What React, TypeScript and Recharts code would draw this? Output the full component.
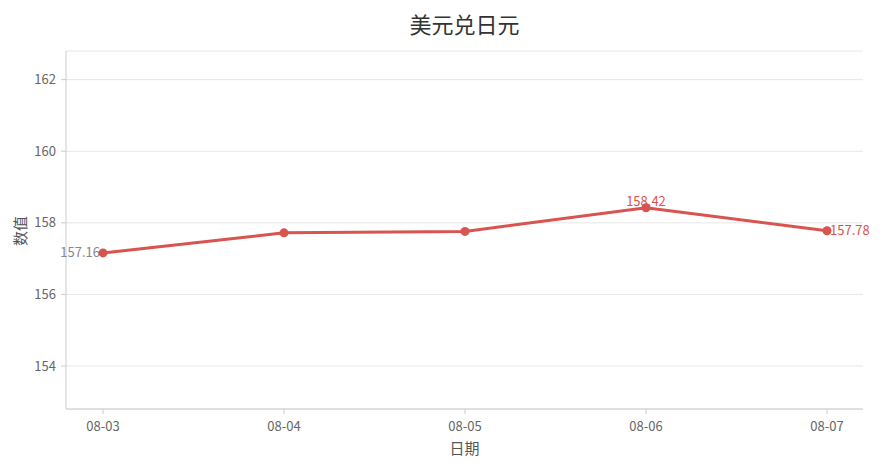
import { LineChart, Line, XAxis, YAxis, CartesianGrid } from "recharts";

document.body.style.margin = "0";

const dates = ["08-03", "08-04", "08-05", "08-06", "08-07"];
const rates = [157.16, 157.72, 157.76, 158.42, 157.78];
const yTicks = [154, 156, 158, 160, 162];

const data = dates.map((d, i) => ({ date: d, rate: rates[i] }));

const FONT = '"Noto Sans CJK SC", "Noto Sans", sans-serif';
const RED = "#d9534f";

const PointLabel = (props: any) => {
  const { x, y, index, value } = props;
  if (index === 0) {
    return (
      <text x={x - 3} y={y} dy="0.35em" textAnchor="end" fill="#888" fontSize={13} fontFamily={FONT}>
        {value}
      </text>
    );
  }
  if (index === 3) {
    return (
      <text x={x} y={y - 2} textAnchor="middle" fill={RED} fontSize={13} fontFamily={FONT}>
        {value}
      </text>
    );
  }
  if (index === 4) {
    return (
      <text x={x + 3} y={y} dy="0.35em" textAnchor="start" fill={RED} fontSize={13} fontFamily={FONT}>
        {value}
      </text>
    );
  }
  return null;
};

const App = () => {
  return (
    <div style={{ position: "relative", width: 883, height: 468, fontFamily: FONT, background: "#fff" }}>
      <div style={{ position: "absolute", left: 0, width: 929, top: 8, textAlign: "center", fontSize: 22, color: "#333", lineHeight: "30px" }}>
        美元兑日元
      </div>
      <div style={{ position: "absolute", left: 0, width: 929, top: 438, textAlign: "center", fontSize: 15, color: "#555", lineHeight: "20px" }}>
        日期
      </div>
      <div style={{ position: "absolute", left: 20, top: 231, transform: "translate(-50%, -50%) rotate(-90deg)", fontSize: 15, color: "#555", lineHeight: "20px", whiteSpace: "nowrap" }}>
        数值
      </div>
      <LineChart width={883} height={468} data={data} margin={{ top: 51, right: 20, left: 0, bottom: 0 }}>
        <CartesianGrid horizontal vertical={false} stroke="#e6e6e6" />
        <XAxis
          dataKey="date"
          height={59}
          padding={{ left: 37, right: 36 }}
          stroke="#ccc"
          tickSize={5}
          tickMargin={8}
          tick={{ fill: "#666", fontSize: 13, fontFamily: FONT }}
        />
        <YAxis
          width={66}
          domain={[152.8, 162.8]}
          ticks={yTicks}
          stroke="#ccc"
          tickSize={5}
          tickMargin={5}
          tick={{ fill: "#666", fontSize: 13, fontFamily: FONT }}
        />
        <Line
          type="linear"
          dataKey="rate"
          stroke={RED}
          strokeWidth={3}
          dot={{ r: 4.5, fill: RED, stroke: RED, strokeWidth: 0 }}
          activeDot={false}
          label={<PointLabel />}
          isAnimationActive={false}
        />
      </LineChart>
    </div>
  );
};

export default App;
